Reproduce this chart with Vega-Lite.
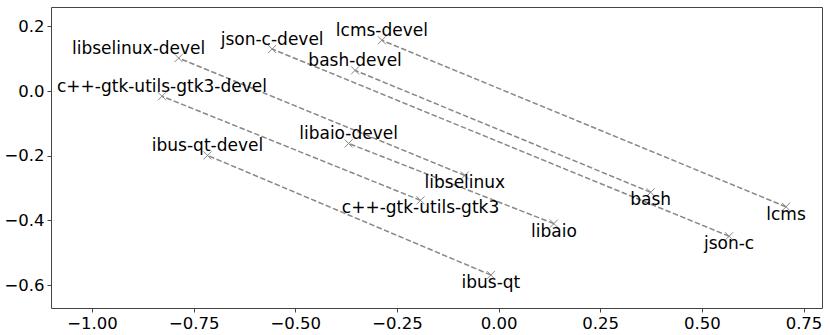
{
  "$schema": "https://vega.github.io/schema/vega-lite/v6.json",
  "width": 771,
  "height": 301,
  "autosize": "none",
  "padding": {"left": 51, "top": 7, "right": 8, "bottom": 27},
  "config": {
    "view": {"stroke": "#444", "strokeWidth": 1},
    "font": "DejaVu Sans"
  },
  "data": {
    "values": [
      {"name": "lcms-devel", "pair": "lcms", "role": "devel", "x": -0.287, "y": 0.157},
      {"name": "lcms", "pair": "lcms", "role": "base", "x": 0.707, "y": -0.358},
      {"name": "json-c-devel", "pair": "json-c", "role": "devel", "x": -0.557, "y": 0.130},
      {"name": "json-c", "pair": "json-c", "role": "base", "x": 0.567, "y": -0.449},
      {"name": "libselinux-devel", "pair": "libselinux", "role": "devel", "x": -0.787, "y": 0.102},
      {"name": "libselinux", "pair": "libselinux", "role": "base", "x": -0.083, "y": -0.261},
      {"name": "bash-devel", "pair": "bash", "role": "devel", "x": -0.353, "y": 0.064},
      {"name": "bash", "pair": "bash", "role": "base", "x": 0.374, "y": -0.313},
      {"name": "c++-gtk-utils-gtk3-devel", "pair": "c++-gtk-utils-gtk3", "role": "devel", "x": -0.828, "y": -0.016},
      {"name": "c++-gtk-utils-gtk3", "pair": "c++-gtk-utils-gtk3", "role": "base", "x": -0.192, "y": -0.338},
      {"name": "libaio-devel", "pair": "libaio", "role": "devel", "x": -0.369, "y": -0.162},
      {"name": "libaio", "pair": "libaio", "role": "base", "x": 0.136, "y": -0.410},
      {"name": "ibus-qt-devel", "pair": "ibus-qt", "role": "devel", "x": -0.716, "y": -0.199},
      {"name": "ibus-qt", "pair": "ibus-qt", "role": "base", "x": -0.019, "y": -0.569}
    ]
  },
  "encoding": {
    "x": {
      "field": "x", "type": "quantitative",
      "scale": {"domain": [-1.101, 0.7955], "nice": false, "zero": false},
      "axis": {"title": null, "values": [-1, -0.75, -0.5, -0.25, 0, 0.25, 0.5, 0.75], "format": ".2f", "grid": false, "domain": false, "tickColor": "#444", "tickSize": 4, "labelFontSize": 16.5, "labelColor": "#000", "labelPadding": 3}
    },
    "y": {
      "field": "y", "type": "quantitative",
      "scale": {"domain": [-0.671, 0.26], "nice": false, "zero": false},
      "axis": {"title": null, "values": [-0.6, -0.4, -0.2, 0, 0.2], "format": ".1f", "grid": false, "domain": false, "tickColor": "#444", "tickSize": 4, "labelFontSize": 16.5, "labelColor": "#000", "labelPadding": 3}
    }
  },
  "layer": [
    {
      "mark": {"type": "line", "color": "#888", "strokeDash": [5.5, 2.4], "strokeWidth": 1.5},
      "encoding": {"detail": {"field": "pair"}, "order": {"field": "role"}}
    },
    {
      "mark": {"type": "point", "shape": "M-1,-1L1,1M-1,1L1,-1", "size": 64, "stroke": "#888", "strokeWidth": 1, "filled": false, "opacity": 1}
    },
    {
      "transform": [{"filter": "datum.role === 'devel' && datum.name !== 'libselinux-devel'"}],
      "mark": {"type": "text", "baseline": "bottom", "align": "center", "fontSize": 17, "color": "#000"},
      "encoding": {"text": {"field": "name"}}
    },
    {
      "transform": [{"filter": "datum.name === 'libselinux-devel'"}],
      "mark": {"type": "text", "baseline": "bottom", "align": "center", "fontSize": 17, "color": "#000", "dx": -40},
      "encoding": {"text": {"field": "name"}}
    },
    {
      "transform": [{"filter": "datum.role === 'base'"}],
      "mark": {"type": "text", "baseline": "top", "align": "center", "fontSize": 17, "color": "#000"},
      "encoding": {"text": {"field": "name"}}
    }
  ]
}
